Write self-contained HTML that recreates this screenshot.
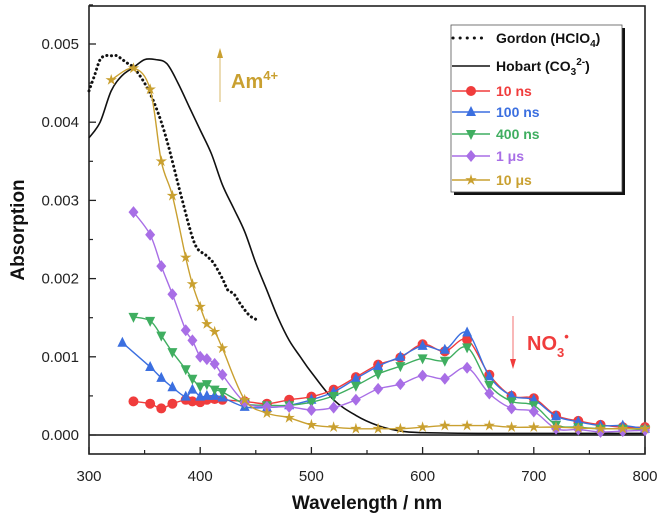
<!DOCTYPE html>
<html><head><meta charset="utf-8"><style>
body{margin:0;background:#fff;font-family:"Liberation Sans",sans-serif}
svg text{font-family:"Liberation Sans",sans-serif}
</style></head><body>
<svg id="c" width="666" height="525"></svg>
<script>
const xTicks=[300,400,500,600,700,800];
const yTicks=[0,0.001,0.002,0.003,0.004,0.005];
const yTickLabels=["0.000","0.001","0.002","0.003","0.004","0.005"];
const wlEarly=[320,340,355,365,375,387,393,400,406,413,420,440,460,480,500,520,540,560,580,600,620,640,660,680,700,720,740,760,780,800];
const s10ns=[null,0.00043,0.00040,0.00034,0.00040,0.00045,0.00043,0.00042,0.00045,0.00046,0.00045,0.00043,0.00040,0.00045,0.00049,0.00058,0.00074,0.0009,0.00099,0.00116,0.00107,0.00122,0.00077,0.0005,0.00047,0.00025,0.00018,0.00013,0.0001,0.0001];
const s100ns=[null,null,0.00087,0.00073,0.00061,0.00049,0.00058,0.00049,0.0005,0.0005,0.00048,0.00036,0.00035,0.00038,0.00045,0.00055,0.00072,0.00088,0.001,0.00114,0.00109,0.00131,0.00075,0.0005,0.00045,0.00024,0.00017,0.00012,0.00012,0.00008];
const s400ns=[null,0.00151,0.00146,0.00127,0.00106,0.00084,0.00072,0.00062,0.00065,0.00058,0.00055,0.0004,0.00038,0.00038,0.00042,0.0005,0.00063,0.00078,0.00088,0.00098,0.00095,0.00112,0.00064,0.00043,0.00038,0.00013,0.0001,0.00008,0.00008,0.00007];
const s1us=[null,0.00285,0.00256,0.00216,0.0018,0.00134,0.00121,0.001,0.00097,0.00091,0.00077,0.00042,0.00036,0.00036,0.00032,0.00035,0.00045,0.00059,0.00065,0.00076,0.00072,0.00086,0.00053,0.00034,0.0003,0.00008,0.00007,0.00004,0.00005,0.00006];
const s10us=[0.00454,0.00469,0.00442,0.0035,0.00306,0.00227,0.00193,0.00164,0.00142,0.00132,0.00111,0.00045,0.00028,0.00022,0.00013,0.0001,0.00008,0.00008,0.00008,0.0001,0.00012,0.00012,0.00012,0.0001,0.0001,0.0001,0.00009,0.00008,0.00008,0.00008];
const blue0=[330,0.00118];
const gordonX=[300,305,310,315,320,325,330,335,340,350,360,370,383,395,405,412,420,425,430,435,440,445,450];
const gordonY=[0.0044,0.0046,0.0048,0.00485,0.00485,0.00485,0.0048,0.00475,0.0047,0.0045,0.0042,0.00377,0.00305,0.00245,0.0023,0.0022,0.002,0.00185,0.00181,0.0017,0.0016,0.00152,0.00148];
const hobartX=[300,310,320,330,340,350,360,370,380,390,400,410,420,430,440,450,460,470,480,490,500,520,540,560,580,600,650,700,800];
const hobartY=[0.0038,0.004,0.0044,0.0046,0.0047,0.0048,0.0048,0.00475,0.0045,0.0042,0.0039,0.0036,0.0032,0.0029,0.0026,0.0022,0.00185,0.0015,0.00121,0.001,0.0008,0.00045,0.00025,0.00012,0.00005,0.00003,0.00002,0.00002,0.00002];
const NS="http://www.w3.org/2000/svg";
const svg=document.getElementById('c');
const L=89,R=645,T=6,B=454;
function X(v){return L+(v-300)*(R-L)/500;}
function Y(v){return 435-v*78200;}
function el(tag,a,parent){const e=document.createElementNS(NS,tag);for(const k in a)e.setAttribute(k,a[k]);(parent||svg).appendChild(e);return e;}
function txt(s,a){const t=el('text',a);t.textContent=s;return t;}
let f=el('rect',{x:L,y:T,width:R-L,height:B-T,fill:'none',stroke:'#222','stroke-width':1.6});


let z=el('line',{x1:L,x2:R,y1:Y(0),y2:Y(0),stroke:'#111','stroke-width':1.5});


xTicks.forEach((v,i)=>{
 let t=el('line',{x1:X(v),x2:X(v),y1:B,y2:B-7,stroke:'#222','stroke-width':1.3});
 
 
 if(i<xTicks.length-1){let m=el('line',{x1:X(v+50),x2:X(v+50),y1:B,y2:B-4,stroke:'#222','stroke-width':1.2});
 
 }
 let l=txt(String(v),{x:X(v),y:481,'font-size':15,'text-anchor':'middle',fill:'#222'});
 
 
});
yTicks.forEach((v,i)=>{
 let t=el('line',{x1:L,x2:L+7,y1:Y(v),y2:Y(v),stroke:'#222','stroke-width':1.3});
 
 
 let m=el('line',{x1:L,x2:L+4,y1:Y(v+0.0005),y2:Y(v+0.0005),stroke:'#222','stroke-width':1.2});
 
 
 let l=txt(yTickLabels[i],{x:79,y:Y(v)+5,'font-size':15,'text-anchor':'end',fill:'#222'});
 
 
});
let xt=txt('Wavelength / nm',{x:367,y:509,'font-size':19,'font-weight':'bold','text-anchor':'middle',fill:'#111'});


let yt=txt('Absorption',{x:0,y:0,'font-size':19,'font-weight':'bold','text-anchor':'middle',fill:'#111',transform:'translate(24,230) rotate(-90)'});


function pathOf(xs,ys){
 const p=[];xs.forEach((x,i)=>{if(ys[i]!=null)p.push([X(x),Y(ys[i])]);});
 let d='M'+p[0][0].toFixed(1)+','+p[0][1].toFixed(1);
 for(let i=0;i<p.length-1;i++){
  const p0=p[i-1]||p[i],p1=p[i],p2=p[i+1],p3=p[i+2]||p2;
  const c1=[p1[0]+(p2[0]-p0[0])/6,p1[1]+(p2[1]-p0[1])/6];
  const c2=[p2[0]-(p3[0]-p1[0])/6,p2[1]-(p3[1]-p1[1])/6];
  d+='C'+c1.map(v=>v.toFixed(1)).join(',')+' '+c2.map(v=>v.toFixed(1)).join(',')+' '+p2[0].toFixed(1)+','+p2[1].toFixed(1);
 }
 return d;
}
let g=el('path',{d:pathOf(gordonX,gordonY),fill:'none',stroke:'#111','stroke-width':3,'stroke-dasharray':'0.1 4.5','stroke-linecap':'round'});


let h=el('path',{d:pathOf(hobartX,hobartY),fill:'none',stroke:'#111','stroke-width':1.6});


function marker(type,cx,cy,col,r,parent){
 if(type==='circle')return el('circle',{cx,cy,r:r,fill:col},parent);
 if(type==='up')return el('polygon',{points:`${cx},${cy-r-1} ${cx-r},${cy+r-1} ${cx+r},${cy+r-1}`,fill:col},parent);
 if(type==='down')return el('polygon',{points:`${cx},${cy+r+1} ${cx-r},${cy-r+1} ${cx+r},${cy-r+1}`,fill:col},parent);
 if(type==='diamond')return el('polygon',{points:`${cx},${cy-r-1} ${cx+r},${cy} ${cx},${cy+r+1} ${cx-r},${cy}`,fill:col},parent);
 let p=[];for(let k=0;k<10;k++){const rr=k%2?r*0.45:r+1;const a=-Math.PI/2+k*Math.PI/5;p.push((cx+rr*Math.cos(a)).toFixed(1)+','+(cy+rr*Math.sin(a)).toFixed(1));}
 return el('polygon',{points:p.join(' '),fill:col},parent);
}
const series=[['series-10ns',s10ns,'#f03c3c','circle'],['series-100ns',s100ns,'#3b6fe0','up'],['series-400ns',s400ns,'#3fae60','down'],['series-1us',s1us,'#a86ee6','diamond'],['series-10us',s10us,'#c9a030','star']];
series.forEach(([name,ys,col,mk])=>{
 const grp=el('g',{});
 
 
 let xs=wlEarly.slice(),yy=ys.slice();
 if(name==='series-100ns'){xs=[blue0[0]].concat(wlEarly.slice(2));yy=[blue0[1]].concat(ys.slice(2));}
 el('path',{d:pathOf(xs,yy),fill:'none',stroke:col,'stroke-width':1.4},grp);
 xs.forEach((x,i)=>{if(yy[i]==null)return;const m=marker(mk,X(x),Y(yy[i]),col,5,grp);
  
  });
});
el('line',{x1:220,y1:102,x2:220,y2:56,stroke:'#c9a030','stroke-width':1.2,opacity:0.6});
el('polygon',{points:'220,48 217,58 223,58',fill:'#c9a030'});
let am=txt('Am',{x:231,y:88,'font-size':20,'font-weight':'bold',fill:'#c9a030'});


const sup=el('tspan',{dy:-8,'font-size':13},am);sup.textContent='4+';
el('line',{x1:513,y1:316,x2:513,y2:360,stroke:'#f03c3c','stroke-width':1.2,opacity:0.6});
el('polygon',{points:'513,369 510,359 516,359',fill:'#f03c3c'});
let no=txt('NO',{x:527,y:350,'font-size':20,'font-weight':'bold',fill:'#f03c3c'});


const sb=el('tspan',{dy:7,'font-size':13},no);sb.textContent='3';
const dt=el('tspan',{dy:-16,'font-size':13},no);dt.textContent='•';
const lg=el('g',{});


el('rect',{x:454,y:28,width:171,height:167,fill:'#111'},lg);
el('rect',{x:451,y:25,width:171,height:167,fill:'#fff',stroke:'#555','stroke-width':0.8},lg);
const rows=[['Gordon (HClO','#111','dot'],['Hobart (CO','#111','line'],['10 ns','#f03c3c','circle'],['100 ns','#3b6fe0','up'],['400 ns','#3fae60','down'],['1 μs','#a86ee6','diamond'],['10 μs','#c9a030','star']];
const ry=[38,66,91,112,134,156,180];
rows.forEach(([lab,col,mk],i)=>{
 const e=el('g',{},lg);
 
 
 const y=ry[i];
 if(mk==='dot')el('line',{x1:453,x2:488,y1:y,y2:y,stroke:col,'stroke-width':3,'stroke-dasharray':'0.1 7','stroke-linecap':'round'},e);
 else el('line',{x1:452,x2:490,y1:y,y2:y,stroke:col,'stroke-width':1.6},e);
 if(mk!=='dot'&&mk!=='line')marker(mk,471,y,col,5,e);
 const t=el('text',{x:496,y:y+5,'font-size':14,'font-weight':'bold',fill:col},e);
 t.textContent=lab;
 if(i===0){const s=el('tspan',{dy:4,'font-size':10},t);s.textContent='4';const s2=el('tspan',{dy:-4},t);s2.textContent=')';}
 if(i===1){const s=el('tspan',{dy:4,'font-size':10},t);s.textContent='3';const s2=el('tspan',{dy:-10,'font-size':10},t);s2.textContent='2-';const s3=el('tspan',{dy:6},t);s3.textContent=')';}
});
</script>
</body></html>
